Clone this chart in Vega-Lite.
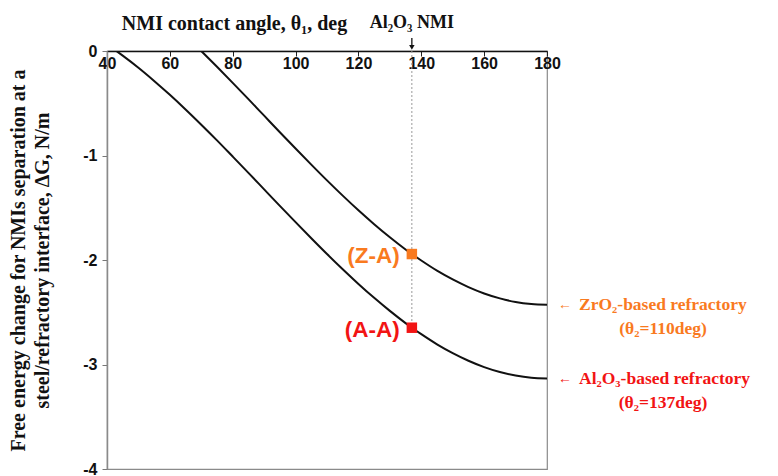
{
  "$schema": "https://vega.github.io/schema/vega-lite/v6.json",
  "width": 440,
  "height": 418,
  "autosize": {"type": "none"},
  "padding": {"left": 107, "top": 51, "right": 231, "bottom": 7},
  "background": "white",
  "config": {
    "view": {"stroke": "#8a8a8a", "strokeWidth": 1.2},
    "axis": {"grid": false}
  },
  "datasets": {
    "curves": [
      {"theta": 43, "dG": 0.0, "pair": "A-A"},
      {"theta": 45, "dG": -0.044, "pair": "A-A"},
      {"theta": 50, "dG": -0.16, "pair": "A-A"},
      {"theta": 55, "dG": -0.286, "pair": "A-A"},
      {"theta": 60, "dG": -0.419, "pair": "A-A"},
      {"theta": 65, "dG": -0.559, "pair": "A-A"},
      {"theta": 70, "dG": -0.705, "pair": "A-A"},
      {"theta": 75, "dG": -0.855, "pair": "A-A"},
      {"theta": 80, "dG": -1.01, "pair": "A-A"},
      {"theta": 85, "dG": -1.166, "pair": "A-A"},
      {"theta": 90, "dG": -1.324, "pair": "A-A"},
      {"theta": 95, "dG": -1.482, "pair": "A-A"},
      {"theta": 100, "dG": -1.638, "pair": "A-A"},
      {"theta": 105, "dG": -1.792, "pair": "A-A"},
      {"theta": 110, "dG": -1.943, "pair": "A-A"},
      {"theta": 115, "dG": -2.089, "pair": "A-A"},
      {"theta": 120, "dG": -2.229, "pair": "A-A"},
      {"theta": 125, "dG": -2.362, "pair": "A-A"},
      {"theta": 130, "dG": -2.487, "pair": "A-A"},
      {"theta": 135, "dG": -2.604, "pair": "A-A"},
      {"theta": 137, "dG": -2.648, "pair": "A-A"},
      {"theta": 140, "dG": -2.71, "pair": "A-A"},
      {"theta": 145, "dG": -2.807, "pair": "A-A"},
      {"theta": 150, "dG": -2.891, "pair": "A-A"},
      {"theta": 155, "dG": -2.964, "pair": "A-A"},
      {"theta": 160, "dG": -3.025, "pair": "A-A"},
      {"theta": 165, "dG": -3.072, "pair": "A-A"},
      {"theta": 170, "dG": -3.106, "pair": "A-A"},
      {"theta": 175, "dG": -3.127, "pair": "A-A"},
      {"theta": 180, "dG": -3.134, "pair": "A-A"},
      {"theta": 70, "dG": 0.0, "pair": "Z-A"},
      {"theta": 75, "dG": -0.151, "pair": "Z-A"},
      {"theta": 80, "dG": -0.305, "pair": "Z-A"},
      {"theta": 85, "dG": -0.461, "pair": "Z-A"},
      {"theta": 90, "dG": -0.619, "pair": "Z-A"},
      {"theta": 95, "dG": -0.777, "pair": "Z-A"},
      {"theta": 100, "dG": -0.933, "pair": "Z-A"},
      {"theta": 105, "dG": -1.087, "pair": "Z-A"},
      {"theta": 110, "dG": -1.238, "pair": "Z-A"},
      {"theta": 115, "dG": -1.384, "pair": "Z-A"},
      {"theta": 120, "dG": -1.524, "pair": "Z-A"},
      {"theta": 125, "dG": -1.657, "pair": "Z-A"},
      {"theta": 130, "dG": -1.782, "pair": "Z-A"},
      {"theta": 135, "dG": -1.899, "pair": "Z-A"},
      {"theta": 137, "dG": -1.943, "pair": "Z-A"},
      {"theta": 140, "dG": -2.005, "pair": "Z-A"},
      {"theta": 145, "dG": -2.102, "pair": "Z-A"},
      {"theta": 150, "dG": -2.186, "pair": "Z-A"},
      {"theta": 155, "dG": -2.259, "pair": "Z-A"},
      {"theta": 160, "dG": -2.32, "pair": "Z-A"},
      {"theta": 165, "dG": -2.367, "pair": "Z-A"},
      {"theta": 170, "dG": -2.402, "pair": "Z-A"},
      {"theta": 175, "dG": -2.422, "pair": "Z-A"},
      {"theta": 180, "dG": -2.429, "pair": "Z-A"}
    ],
    "al2o3": [
      {"theta": 137, "dG": -2.648, "guideTop": 0, "pair": "A-A", "label": "(A-A)"},
      {"theta": 137, "dG": -1.943, "guideTop": 0, "pair": "Z-A", "label": "(Z-A)"}
    ],
    "refractories": [
      {"theta": 180, "dG": -2.429, "pair": "Z-A", "name": "ZrO₂-based refractory", "angle": "(θ₂=110deg)"},
      {"theta": 180, "dG": -3.134, "pair": "A-A", "name": "Al₂O₃-based refractory", "angle": "(θ₂=137deg)"}
    ],
    "nmi": [
      {"theta": 137, "dG": 0, "shaftTop": 0.125, "shaftEnd": 0.05, "tip": 0.035, "note": "Al₂O₃ NMI"}
    ]
  },
  "encoding": {
    "x": {
      "field": "theta",
      "type": "quantitative",
      "scale": {"domain": [40, 180], "nice": false, "zero": false},
      "axis": {
        "orient": "top",
        "values": [40, 60, 80, 100, 120, 140, 160, 180],
        "title": "NMI contact angle, θ₁, deg",
        "titleFont": "Liberation Serif",
        "titleFontSize": 20,
        "titleFontWeight": "bold",
        "titleColor": "#111",
        "titleX": 127,
        "titleY": -28,
        "titleAlign": "center",
        "titleBaseline": "middle",
        "titleAngle": 0,
        "labelFont": "Liberation Sans",
        "labelFontSize": 16,
        "labelFontWeight": "bold",
        "labelColor": "#111",
        "labelBaseline": "top",
        "labelPadding": 1,
        "labelFlush": false,
        "labelOverlap": false,
        "tickSize": -5,
        "tickColor": "#222",
        "domainColor": "#111",
        "domainWidth": 1.5
      }
    },
    "y": {
      "field": "dG",
      "type": "quantitative",
      "scale": {"domain": [-4, 0], "nice": false, "zero": false},
      "axis": {
        "orient": "left",
        "values": [0, -1, -2, -3, -4],
        "labelExpr": "replace(datum.label, '−', '-')",
        "title": ["Free energy change for NMIs separation at a", "steel/refractory interface, ΔG, N/m"],
        "titleFont": "Liberation Serif",
        "titleFontSize": 20,
        "titleFontWeight": "bold",
        "titleColor": "#111",
        "titleLineHeight": 24,
        "titleAngle": -90,
        "titleX": -89,
        "titleY": 209,
        "titleAlign": "center",
        "titleBaseline": "middle",
        "labelFont": "Liberation Sans",
        "labelFontSize": 16,
        "labelFontWeight": "bold",
        "labelColor": "#111",
        "labelPadding": 5,
        "labelFlush": false,
        "labelOverlap": false,
        "tickSize": 5,
        "tickColor": "#777",
        "domainColor": "#8a8a8a",
        "domainWidth": 1.5
      }
    }
  },
  "layer": [
    {
      "data": {"name": "al2o3"},
      "transform": [{"filter": "datum.pair === 'A-A'"}],
      "mark": {"type": "rule", "color": "#999", "strokeWidth": 1, "strokeDash": [2, 2]},
      "encoding": {"y": {"field": "guideTop", "type": "quantitative"}, "y2": {"field": "dG"}}
    },
    {
      "data": {"name": "curves"},
      "mark": {"type": "line", "color": "#111", "strokeWidth": 2, "interpolate": "monotone", "clip": true},
      "encoding": {"detail": {"field": "pair"}}
    },
    {
      "data": {"name": "al2o3"},
      "mark": {"type": "point", "shape": "square", "filled": true, "size": 110, "opacity": 1},
      "encoding": {
        "color": {"field": "pair", "type": "nominal", "scale": {"domain": ["Z-A", "A-A"], "range": ["#F97A1F", "#F21414"]}, "legend": null}
      }
    },
    {
      "data": {"name": "al2o3"},
      "mark": {"type": "text", "align": "right", "baseline": "middle", "dx": -12, "dy": 2, "font": "Liberation Sans", "fontSize": 22.5, "fontWeight": "bold"},
      "encoding": {
        "text": {"field": "label"},
        "color": {"field": "pair", "type": "nominal", "scale": {"domain": ["Z-A", "A-A"], "range": ["#F97A1F", "#F21414"]}, "legend": null}
      }
    },
    {
      "data": {"name": "nmi"},
      "mark": {"type": "rule", "color": "#111", "strokeWidth": 1.3},
      "encoding": {"y": {"field": "shaftTop", "type": "quantitative"}, "y2": {"field": "shaftEnd"}}
    },
    {
      "data": {"name": "nmi"},
      "mark": {"type": "point", "shape": "triangle-down", "filled": true, "size": 30, "color": "#111", "opacity": 1},
      "encoding": {"y": {"field": "tip", "type": "quantitative"}}
    },
    {
      "data": {"name": "nmi"},
      "mark": {"type": "text", "align": "center", "baseline": "middle", "dy": -28, "font": "Liberation Serif", "fontSize": 18, "fontWeight": "bold", "color": "#111"},
      "encoding": {"text": {"field": "note"}}
    },
    {
      "data": {"name": "refractories"},
      "mark": {"type": "text", "align": "left", "baseline": "middle", "dx": 11, "font": "Liberation Sans", "fontSize": 14, "fontWeight": "bold"},
      "encoding": {
        "text": {"value": "←"},
        "color": {"field": "pair", "type": "nominal", "scale": {"domain": ["Z-A", "A-A"], "range": ["#F97A1F", "#F21414"]}, "legend": null}
      }
    },
    {
      "data": {"name": "refractories"},
      "mark": {"type": "text", "align": "left", "baseline": "middle", "dx": 32, "font": "Liberation Serif", "fontSize": 17.5, "fontWeight": "bold"},
      "encoding": {
        "text": {"field": "name"},
        "color": {"field": "pair", "type": "nominal", "scale": {"domain": ["Z-A", "A-A"], "range": ["#F97A1F", "#F21414"]}, "legend": null}
      }
    },
    {
      "data": {"name": "refractories"},
      "mark": {"type": "text", "align": "center", "baseline": "middle", "dx": 116, "dy": 24, "font": "Liberation Serif", "fontSize": 17.5, "fontWeight": "bold"},
      "encoding": {
        "text": {"field": "angle"},
        "color": {"field": "pair", "type": "nominal", "scale": {"domain": ["Z-A", "A-A"], "range": ["#F97A1F", "#F21414"]}, "legend": null}
      }
    }
  ]
}
